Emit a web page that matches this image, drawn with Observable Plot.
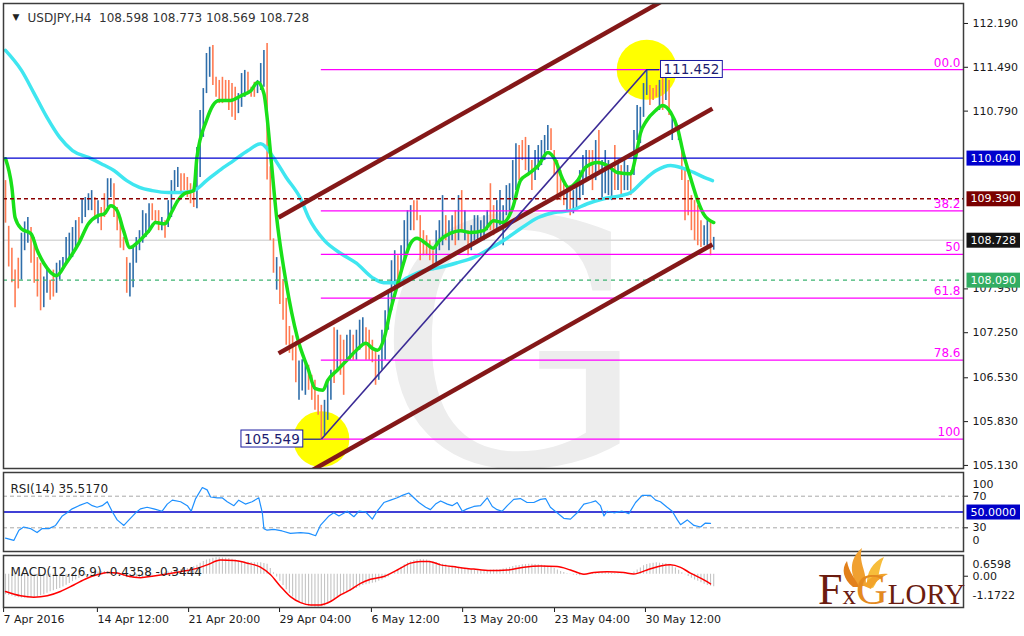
<!DOCTYPE html>
<html><head><meta charset="utf-8">
<script src="https://cdn.jsdelivr.net/npm/d3@7"></script>
<script src="https://cdn.jsdelivr.net/npm/@observablehq/plot@0.6"></script>
<style>
body{margin:0;background:#fff;}
#wrap{position:relative;width:1024px;height:636px;overflow:hidden;background:#fff;font-family:"DejaVu Sans",sans-serif;}
#wrap svg{position:absolute;left:0;}
</style></head><body><div id="wrap"></div>
<script>
// ---------- DATA ----------
const symbolHeader = "USDJPY,H4\u00a0\u00a0108.598 108.773 108.569 108.728";
const barHi = [
109.68,108.95,108.60,108.25,108.44,108.84,109.02,109.09,108.93,108.77,
108.45,108.36,108.14,108.25,108.09,108.25,108.36,108.40,108.45,108.77,
108.84,108.93,109.04,109.09,109.39,109.41,109.47,109.52,109.41,109.36,
109.25,109.47,109.71,109.71,109.63,109.25,109.09,108.77,108.45,108.36,
108.61,108.77,108.88,109.20,109.15,109.31,109.31,109.20,109.20,109.09,
109.04,109.36,109.68,109.84,109.89,109.79,109.79,109.73,109.63,109.57,
110.21,110.80,111.15,111.71,111.81,111.84,111.33,111.28,111.33,111.28,
111.28,111.23,111.17,111.07,111.39,111.44,111.41,111.17,111.25,111.28,
111.55,111.76,111.87,109.90,108.75,108.45,108.30,108.10,107.80,107.35,
107.20,107.10,106.80,106.82,106.74,106.73,106.57,106.49,106.25,106.09,
106.17,106.49,106.65,107.33,107.29,107.21,107.13,107.21,107.29,107.21,
107.29,107.45,107.49,107.33,107.29,107.13,106.97,106.89,107.29,107.60,
107.93,108.40,108.56,108.48,108.64,109.04,109.20,109.28,109.36,109.36,
109.12,108.88,108.80,108.72,108.56,108.88,109.04,109.44,109.12,109.04,
109.12,109.20,109.44,109.52,109.20,108.88,108.96,109.12,109.12,109.04,
109.12,109.20,109.63,109.28,109.36,109.52,109.28,109.60,109.63,110.00,
110.27,110.24,110.32,110.37,110.24,110.00,110.16,110.24,110.32,110.40,
110.56,110.51,110.16,110.00,109.84,109.68,109.60,109.52,109.52,109.60,
109.84,110.08,110.16,110.16,110.16,110.32,110.48,110.00,110.16,110.00,
109.92,110.24,110.00,109.92,110.00,109.92,109.84,110.48,110.88,110.85,
111.23,111.452,111.20,111.15,111.20,111.28,111.36,111.36,111.28,110.72,
110.64,110.56,110.21,109.84,109.68,109.44,109.36,109.28,109.04,108.96,
109.04,109.04,108.773];
const barLo = [
109.00,108.30,108.05,107.65,107.95,108.09,108.56,108.68,108.36,108.04,
107.82,107.60,107.65,107.88,107.77,107.82,107.88,108.09,108.25,108.36,
108.40,108.45,108.61,108.68,108.99,109.09,109.20,109.20,109.09,108.99,
108.88,109.09,109.25,109.41,109.09,108.88,108.60,108.56,107.88,107.82,
107.97,108.36,108.56,108.68,108.77,108.84,109.04,108.99,108.88,108.88,
108.76,108.93,109.09,109.47,109.57,109.47,109.52,109.41,109.31,109.25,
109.23,109.73,110.37,111.07,111.33,111.20,111.01,110.91,110.91,110.93,
110.80,110.69,110.64,110.75,110.85,111.01,111.07,111.01,111.01,111.07,
111.12,111.17,109.69,108.72,108.20,107.93,107.70,107.45,107.05,106.92,
106.80,106.45,106.17,106.32,106.25,106.33,106.17,106.01,105.93,105.549,
105.61,105.85,106.17,106.44,106.65,106.57,106.25,106.81,106.81,106.81,
106.81,106.97,107.05,106.81,106.81,106.77,106.41,106.49,106.65,106.81,
107.29,107.60,107.93,108.09,108.24,108.40,108.56,108.88,108.88,109.04,
108.40,108.48,108.48,108.40,108.24,108.32,108.56,108.64,108.72,108.56,
108.72,108.64,108.72,108.88,108.72,108.48,108.56,108.72,108.72,108.72,
108.72,108.88,108.88,108.80,108.88,108.96,108.64,109.12,109.12,109.36,
109.52,109.68,110.00,109.84,109.76,109.52,109.68,109.84,109.92,110.00,
110.16,110.16,109.76,109.36,109.36,109.28,109.20,109.12,109.15,109.20,
109.36,109.44,109.68,109.76,109.52,109.68,109.84,109.36,109.47,109.44,
109.36,109.52,109.52,109.44,109.52,109.52,109.44,109.76,110.32,110.27,
110.69,111.04,110.88,110.96,111.01,110.80,110.80,110.96,110.72,110.32,
110.48,110.32,109.68,109.04,109.12,108.88,108.72,108.64,108.61,108.64,
108.64,108.48,108.569];
const barDir = "ddddd"+"uuu"+"dddd"+"uu"+"dd"+"uuuuuuu"+"d"+"uuuu"+"d"+"u"+"dd"+"uu"+"ddddd"+"uuuuuuu"+"ddd"+"u"+"d"+"uuuu"+"ddddd"+"uuuuu"+"dddddddd"+"uuu"+"ddd"+"uuu"+"ddd"+"u"+"dddddd"+"uuu"+"ddddd"+"uuu"+"d"+"u"+"dd"+"uu"+"d"+"uuu"+"dddd"+"uuuuuu"+"d"+"uuuu"+"ddddddd"+"uuu"+"d"+"uu"+"d"+"u"+"d"+"u"+"d"+"uuuuuu"+"dd"+"uuuuuuu"+"ddd"+"u"+"d"+"uuuuu"+"ddddd"+"u"+"d"+"uuuuu"+"dd"+"u"+"d"+"uuuu"+"d"+"u"+"d"+"uu"+"d"+"uuuuu"+"ddd"+"u"+"d"+"u"+"d"+"u"+"d"+"u"+"ddddddd"+"uu"+"d"+"u";

const maFastIdx = [0,2,3,5,8,10,12,16,19,23,26,29,31,33,35,37,39,42,45,47,50,52,54,56,59,60,63,65,67,70.5,74,77,79,81,82,83,85,88,91.5,95,97,99.5,101,104,107,110,113,115,116.6,118.5,120.7,123,125,127,129,131.7,134,136,139.5,142.6,145.8,149.8,153,156,159,161.4,164,167,170,172.4,174.6,176.5,179.3,181.8,185.6,188.7,191.8,196,197.5,199,201,203.8,206,208.5,210.7,212.5,214.7,217,218.8,222];
const maFastVal = [110.03,109.57,109.09,108.91,108.83,108.56,108.36,108.16,108.36,108.68,108.99,109.12,109.15,109.28,109.20,108.88,108.61,108.72,108.88,109.01,108.99,109.17,109.36,109.47,109.52,110.05,110.64,110.88,110.96,110.96,111.04,111.12,111.25,111.07,110.69,110.16,109.09,108.04,107.17,106.65,106.36,106.33,106.49,106.65,106.81,106.97,107.08,107.00,106.97,107.13,107.61,108.04,108.40,108.68,108.76,108.68,108.60,108.72,108.84,108.88,108.85,108.88,109.04,109.01,109.25,109.68,109.79,109.92,110.13,110.00,109.71,109.57,109.68,109.89,109.97,109.92,109.81,109.79,110.05,110.43,110.64,110.80,110.88,110.77,110.51,110.11,109.73,109.36,109.15,109.01];
const maSlowIdx = [0,5,9,13,17,21,26,30,34,38,42,46,51,55,59,63,67,71.5,76,80,84,88,92.5,95,100,105,110,115,118.5,123,126,131,136,141.7,146.7,152,156,161.4,167,172,177,182.4,187.5,193,196,200,204,208.5,211.6,215.7,220,221.6];
const maSlowVal = [111.76,111.44,111.07,110.69,110.37,110.16,110.05,109.95,109.84,109.68,109.57,109.52,109.49,109.49,109.52,109.68,109.84,110.00,110.16,110.27,110.05,109.73,109.39,109.09,108.72,108.52,108.36,108.13,108.05,108.05,108.13,108.24,108.29,108.37,108.45,108.60,108.72,108.91,109.09,109.17,109.20,109.31,109.39,109.44,109.49,109.68,109.84,109.92,109.89,109.81,109.71,109.68];

const fibNames = ["00.0","38.2","50","61.8","78.6","100"];
const fibPrices = [111.452,109.197,108.50,107.804,106.812,105.549];
const lowIdx = 99, lowPrice = 105.549, highIdx = 201, highPrice = 111.452;
const chanX1 = [85.6,85.6,85.6], chanP1 = [109.09,106.92,104.75];
const chanX2 = [221.6,221.6,221.6], chanP2 = [113.00,110.83,108.66];
const levelPrices = [110.04,109.39,108.728,108.09];
const levelTexts = ["110.040","109.390","108.728","108.090"];
const priceTicks = [112.19,111.49,110.79,107.95,107.25,106.53,105.83,105.13];

const rsiIdx = [0,2.6,4.2,5.7,7.8,9.9,11.5,13.6,15.7,17.8,19.3,20.9,23,25.6,27.2,28.7,30.3,31.9,33.4,35,37.1,38.7,40.8,42.3,44.4,46.5,49.1,50.7,52.3,54.9,57,58.2,59.6,61.7,63.2,64.3,66.4,67.9,69.5,71.6,73.1,75.2,77.3,79.4,80.5,81,82,84.1,86.7,89.3,92.5,95.1,97.2,98.7,101.4,102.9,104.5,107.1,109.2,110.8,112.9,115,116.5,118.6,120.7,122.8,124.4,126.4,127.5,129.6,131.7,133.2,134.8,136.4,138.5,140,141.6,143.2,144.7,146.8,148.9,151,152.6,154.1,155.7,157.3,159.3,161.4,163.5,165.6,167.7,169.3,170.8,172.9,175,177.1,179.2,181.3,183.4,185,186.5,187.6,188.6,190.7,193.3,195.4,197.5,199.6,202.2,203.8,205.3,207.4,209,210.6,211.6,213.7,215.8,217.9,219.4,221];
const rsiVal = [17,14,27,31,29,24,29,29,33,45,49,54,58,62,58,56,58,63,51,40,33,40,49,54,56,54,51,60,65,63,58,51,67,81,78,69,68,68,63,58,65,60,63,68,49,29,27,28,26,23,24,23,20,33,45,49,45,51,44,51,50,41,51,62,65,68,71,74,70,62,56,53,60,64,60,58,62,51,54,57,58,68,57,53,51,58,66,67,62,62,66,67,56,49,42,41,49,60,62,64,58,45,51,49,51,48,62,71,71,65,63,56,51,40,34,40,33,31,36,35.5];

const macdHist = [-0.72,-0.75,-0.78,-0.81,-0.83,-0.84,-0.85,-0.84,-0.83,-0.82,-0.80,-0.76,-0.72,-0.67,-0.62,-0.58,-0.54,-0.50,-0.45,-0.39,-0.33,-0.26,-0.20,-0.15,-0.10,-0.05,0.00,0.03,0.06,0.08,0.10,0.10,0.09,0.07,0.05,0.01,-0.03,-0.08,-0.12,-0.14,-0.15,-0.15,-0.15,-0.12,-0.08,-0.05,-0.02,0.00,0.02,0.03,0.05,0.08,0.10,0.13,0.15,0.17,0.18,0.20,0.22,0.26,0.32,0.39,0.45,0.50,0.53,0.56,0.58,0.58,0.57,0.56,0.55,0.53,0.50,0.47,0.45,0.43,0.42,0.41,0.40,0.40,0.40,0.38,0.35,0.20,0.05,-0.10,-0.25,-0.40,-0.55,-0.68,-0.80,-0.90,-0.98,-1.05,-1.10,-1.13,-1.15,-1.16,-1.17,-1.15,-1.12,-1.06,-1.00,-0.92,-0.85,-0.78,-0.72,-0.66,-0.60,-0.55,-0.50,-0.45,-0.40,-0.37,-0.34,-0.32,-0.30,-0.25,-0.20,-0.15,-0.10,-0.01,0.08,0.17,0.25,0.33,0.40,0.44,0.48,0.50,0.52,0.51,0.50,0.47,0.44,0.41,0.38,0.35,0.33,0.30,0.28,0.26,0.24,0.22,0.20,0.18,0.16,0.14,0.12,0.12,0.12,0.13,0.14,0.15,0.16,0.17,0.18,0.21,0.24,0.27,0.30,0.31,0.33,0.34,0.35,0.35,0.34,0.33,0.32,0.30,0.27,0.24,0.20,0.15,0.10,0.06,0.02,-0.01,-0.03,-0.04,-0.05,-0.03,0.00,0.03,0.05,0.06,0.06,0.06,0.05,0.04,0.03,0.03,0.02,0.01,0.01,0.01,0.02,0.08,0.15,0.22,0.30,0.34,0.37,0.39,0.40,0.39,0.38,0.37,0.35,0.29,0.22,0.14,0.05,-0.02,-0.08,-0.14,-0.20,-0.25,-0.30,-0.35,-0.40,-0.42,-0.44];
const sigIdx = [0,4.7,8.9,13.1,17.2,21.4,25.6,28.7,31.9,35,38.1,42.3,46.5,50.7,54.9,59,63.2,67.4,71.6,75.8,79.9,83.1,86.2,89.3,92.5,95.6,98.7,101.9,105,108.1,111.3,114.4,118.6,122.8,127,130.1,132.7,136.4,141.6,146.8,152,157.3,162.5,167.7,172.9,177.1,181.3,184.4,188.6,193.8,196.9,201.1,205.3,208.4,211.6,214.7,217.9,221];
const sigVal = [-0.61,-0.76,-0.81,-0.76,-0.61,-0.38,-0.14,-0.02,0.06,0.04,-0.06,-0.12,-0.06,0.01,0.09,0.18,0.33,0.50,0.48,0.39,0.25,-0.02,-0.43,-0.79,-1.0,-1.08,-1.08,-0.96,-0.73,-0.55,-0.32,-0.18,-0.08,0.15,0.39,0.45,0.45,0.33,0.25,0.18,0.13,0.15,0.25,0.29,0.27,0.15,0,0.06,0.09,0.06,0.01,0.15,0.29,0.33,0.24,0.04,-0.14,-0.34];

const timeTickIdx = [-0.6,28.8,57.4,85.9,114.7,143.3,172.1,200.6];
const timeTickLabels = ["7 Apr 2016","14 Apr 12:00","21 Apr 20:00","29 Apr 04:00","6 May 12:00","13 May 20:00","23 May 04:00","30 May 12:00"];

// ---------- TABLES ----------
const bars = barHi.map((h, i) => ({i, hi: h, lo: barLo[i], up: (barDir[i] || "d") === "u"}));
const maFast = maFastIdx.map((x, k) => ({x, v: maFastVal[k]}));
const maSlow = maSlowIdx.map((x, k) => ({x, v: maSlowVal[k]}));
const fibs = fibNames.map((t, k) => ({t, p: fibPrices[k]}));
const chans = chanX1.map((x1, k) => ({x1, y1: chanP1[k], x2: chanX2[k], y2: chanP2[k]}));
const levels = levelPrices.map((p, k) => ({p, t: levelTexts[k]}));
const rsi = rsiIdx.map((x, k) => ({x, v: rsiVal[k]}));
const hist = macdHist.map((v, i) => ({i, v}));
const sig = sigIdx.map((x, k) => ({x, v: sigVal[k]}));
const tickLabelMap = new Map(timeTickIdx.map((d, k) => [d, timeTickLabels[k]]));

const X_DOMAIN = [-0.63, 300.3];
const FRAME = "#3c3c3c";
const UP = "#2f6eaa", DOWN = "#ff7b52";
const baseStyle = {background: "transparent", color: "#1a1a1a", fontFamily: "DejaVu Sans, sans-serif", fontSize: "11px", overflow: "visible"};
const wrap = document.getElementById("wrap");

function boxify(svg, desc, fills, strokes, px, py) {
  svg.querySelectorAll(`g[aria-description="${desc}"] text`).forEach((t, k) => {
    const b = t.getBBox();
    const r = document.createElementNS("http://www.w3.org/2000/svg", "rect");
    r.setAttribute("x", b.x - px); r.setAttribute("y", b.y - py);
    r.setAttribute("width", b.width + 2 * px); r.setAttribute("height", b.height + 2 * py);
    const tr = t.getAttribute("transform"); if (tr) r.setAttribute("transform", tr);
    r.setAttribute("fill", fills[k % fills.length]);
    r.setAttribute("stroke", strokes ? strokes[k % strokes.length] : "none");
    t.parentNode.insertBefore(r, t);
  });
}

// ---------- MAIN PANEL ----------
const main = Plot.plot({
  width: 1024, height: 470, marginTop: 3, marginBottom: 2, marginLeft: 3, marginRight: 61,
  x: {domain: X_DOMAIN, axis: null},
  y: {domain: [105.081, 112.509], axis: null},
  color: {type: "identity"},
  style: baseStyle,
  marks: [
    Plot.text(["G"], {frameAnchor: "top-left", dx: 507, dy: 352, text: d => d, textAnchor: "middle", fontSize: 340, fontFamily: "DejaVu Serif, serif", fill: "#ededed", lineAnchor: "middle"}),
    Plot.dot([{x: lowIdx, y: lowPrice}], {x: "x", y: "y", r: 28, fill: "#ffff00", stroke: "none"}),
    Plot.dot([{x: highIdx, y: highPrice}], {x: "x", y: "y", r: 30, fill: "#ffff00", stroke: "none"}),
    Plot.ruleY([108.728], {stroke: "#d9d9d9", strokeWidth: 1.5}),
    Plot.ruleX(bars, {x: "i", y1: "lo", y2: "hi", stroke: d => d.up ? UP : DOWN, strokeWidth: 1.6}),
    Plot.line(maSlow, {x: "x", y: "v", stroke: "#3fe6f0", strokeWidth: 3.5, curve: "monotone-x"}),
    Plot.line(maFast, {x: "x", y: "v", stroke: "#19e019", strokeWidth: 3.5, curve: "monotone-x"}),
    Plot.ruleY(fibs, {y: "p", x1: lowIdx, x2: X_DOMAIN[1], stroke: "#ff00ff", strokeWidth: 1.3}),
    Plot.ruleY([110.04], {stroke: "#0000d0", strokeWidth: 1.3}),
    Plot.ruleY([109.39], {stroke: "#8b0000", strokeWidth: 1.3, strokeDasharray: "4,3"}),
    Plot.ruleY([108.09], {stroke: "#3cb371", strokeWidth: 1.3, strokeDasharray: "4,4"}),
    Plot.link(chans, {x1: "x1", y1: "y1", x2: "x2", y2: "y2", stroke: "#841818", strokeWidth: 4.5, clip: true}),
    Plot.link([{x1: lowIdx, y1: lowPrice, x2: highIdx, y2: highPrice}], {x1: "x1", y1: "y1", x2: "x2", y2: "y2", stroke: "#3a2a95", strokeWidth: 1.6}),
    Plot.text(fibs, {x: X_DOMAIN[1], y: "p", text: "t", textAnchor: "end", dx: -3, dy: -7, fill: "#ff00ff", fontSize: 12}),
    Plot.ruleY([lowPrice], {x1: lowIdx - 5.5, x2: lowIdx, stroke: "#1a1aa0", strokeWidth: 1.2}),
    Plot.ruleY([highPrice], {x1: highIdx, x2: highIdx + 4, stroke: "#1a1aa0", strokeWidth: 1.2}),
    Plot.text([{x: lowIdx - 5.5, y: lowPrice, t: "105.549"}], {x: "x", y: "y", text: "t", textAnchor: "end", dx: -4, fontSize: 13.5, fill: "#1c1c70", ariaDescription: "pbox"}),
    Plot.text([{x: highIdx + 4, y: highPrice, t: "111.452"}], {x: "x", y: "y", text: "t", textAnchor: "start", dx: 4, fontSize: 13.5, fill: "#1c1c70", ariaDescription: "pbox"}),
    Plot.axisY(priceTicks, {anchor: "right", label: null, tickSize: 4, tickPadding: 5, tickFormat: d3.format(".3f"), fontSize: 11}),
    Plot.text(levels, {frameAnchor: "right", y: "p", text: "t", textAnchor: "start", dx: 7, fill: "white", fontSize: 11, ariaDescription: "lbox"}),
    Plot.text(["\u25BC"], {frameAnchor: "top-left", dx: 9, dy: 10, fontSize: 9, fill: "#222"}),
    Plot.text([symbolHeader], {frameAnchor: "top-left", dx: 24, dy: 10, textAnchor: "start", fontSize: 12, fill: "#333"}),
    Plot.frame({stroke: FRAME, strokeWidth: 1.5})
  ]
});
main.style.top = "0px";
wrap.appendChild(main);
boxify(main, "lbox", ["#0000cd", "#7a0000", "#151515", "#32ad62"], null, 4, 1);
boxify(main, "pbox", ["#ffffff"], ["#1a1aa0"], 3, 0.5);

// ---------- RSI PANEL ----------
const rsiPlot = Plot.plot({
  width: 1024, height: 84, marginTop: 2, marginBottom: 3, marginLeft: 3, marginRight: 61,
  x: {domain: X_DOMAIN, axis: null},
  y: {domain: [0, 100], axis: null},
  style: baseStyle,
  marks: [
    Plot.ruleY([70, 30], {stroke: "#a8a8a8", strokeDasharray: "4,3"}),
    Plot.ruleY([50], {stroke: "#0000c8", strokeWidth: 1.5}),
    Plot.line(rsi, {x: "x", y: "v", stroke: "#1e90ff", strokeWidth: 1.2}),
    Plot.axisY([70, 30], {anchor: "right", label: null, tickSize: 4, tickPadding: 5, fontSize: 11}),
    Plot.text(["100"], {frameAnchor: "top-right", dx: 9, dy: 8, textAnchor: "start", fontSize: 11}),
    Plot.text(["0"], {frameAnchor: "bottom-right", dx: 9, dy: -8, textAnchor: "start", fontSize: 11}),
    Plot.text([50], {frameAnchor: "right", y: d => d, text: () => "50.0000", textAnchor: "start", dx: 7, fill: "white", fontSize: 11, ariaDescription: "rbox"}),
    Plot.text(["RSI(14) 35.5170"], {frameAnchor: "top-left", dx: 7, dy: 12, textAnchor: "start", fontSize: 12, fill: "#222"}),
    Plot.frame({stroke: FRAME, strokeWidth: 1.5})
  ]
});
rsiPlot.style.top = "470px";
wrap.appendChild(rsiPlot);
boxify(rsiPlot, "rbox", ["#0000c8"], null, 4, 1);

// ---------- MACD PANEL ----------
const macdPlot = Plot.plot({
  width: 1024, height: 83, marginTop: 2, marginBottom: 29, marginLeft: 3, marginRight: 61,
  x: {domain: X_DOMAIN, axis: null},
  y: {domain: [-1.1722, 0.6598], axis: null},
  style: baseStyle,
  marks: [
    Plot.ruleX(hist, {x: "i", y1: 0, y2: "v", stroke: "#c4c4c4", strokeWidth: 1.1}),
    Plot.line(sig, {x: "x", y: "v", stroke: "#ff0000", strokeWidth: 1.5, curve: "monotone-x"}),
    Plot.axisY([0], {anchor: "right", label: null, tickSize: 4, tickPadding: 5, tickFormat: d3.format(".2f"), fontSize: 11, dy: 2}),
    Plot.text(["0.6598"], {frameAnchor: "top-right", dx: 9, dy: 5, textAnchor: "start", fontSize: 11}),
    Plot.text(["-1.1722"], {frameAnchor: "bottom-right", dx: 9, dy: -9, textAnchor: "start", fontSize: 11}),
    Plot.text(["MACD(12,26,9) -0.4358 -0.3444"], {frameAnchor: "top-left", dx: 7, dy: 12, textAnchor: "start", fontSize: 12, fill: "#222"}),
    Plot.axisX(timeTickIdx, {anchor: "bottom", label: null, tickSize: 5, tickPadding: 3, tickFormat: d => tickLabelMap.get(d), textAnchor: "start", fontSize: 11}),
    Plot.frame({stroke: FRAME, strokeWidth: 1.5})
  ]
});
macdPlot.style.top = "553px";
wrap.appendChild(macdPlot);

// ---------- LOGO ----------
const NS = "http://www.w3.org/2000/svg";
const logo = document.createElementNS(NS, "svg");
logo.setAttribute("width", 1024); logo.setAttribute("height", 636);
logo.style.top = "0px"; logo.style.pointerEvents = "none";
logo.innerHTML = `
<path d="M858,586 C848,571 851,557 862,548 C858,562 867,571 866,586 Z" fill="#f0a030"/>
<path d="M867,586 C866,572 873,562 884,557 C878,569 880,579 873,588 Z" fill="#f7bd3a"/>
<path d="M853,587 C843,579 841,569 847,561 C849,573 856,579 859,587 Z" fill="#e2801b"/>
<path d="M864,586 C870,576 878,573 888,574 C880,578 874,583 871,589 Z" fill="#f2a32a"/>
<text x="818" y="604" font-family="Liberation Serif, serif" fill="#6b1c10"><tspan font-size="44">F</tspan><tspan font-size="27">x</tspan><tspan font-size="44" fill="#e38a1f">G</tspan><tspan font-size="29">LORY</tspan></text>`;
wrap.appendChild(logo);
</script>
</body></html>
